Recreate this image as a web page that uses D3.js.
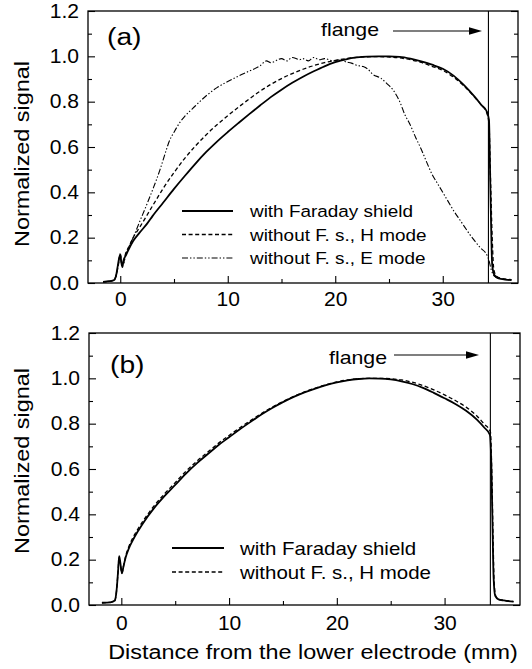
<!DOCTYPE html>
<html>
<head>
<meta charset="utf-8">
<script src="https://cdn.jsdelivr.net/npm/d3@7"></script>
<style>
  body { margin: 0; background: #fff; }
  text { font-family: Arial, "Liberation Sans", Helvetica, sans-serif; fill: #000; }
</style>
</head>
<body>
<svg id="chart" width="532" height="669"></svg>
<script>
// ---- Data: [distance (mm), normalized signal] ----

// Panel (a): with Faraday shield
const aShield = [
  [-1.6,0.005],[-1.0,0.008],[-0.6,0.012],[-0.4,0.03],[-0.25,0.07],[-0.1,0.11],[0.0,0.125],
  [0.1,0.09],[0.2,0.07],[0.3,0.1],[0.5,0.12],[0.8,0.15],[1.2,0.185],[1.8,0.222],[2.5,0.262],
  [3.0,0.295],[4.0,0.355],[5.0,0.415],[6.0,0.472],[7.0,0.527],[8.0,0.578],[9.0,0.624],[10.0,0.666],
  [11.0,0.706],[12.0,0.745],[13.0,0.783],[14.0,0.82],[15.0,0.853],[16.0,0.883],[17.0,0.91],
  [18.0,0.934],[19.0,0.956],[20.0,0.974],[21.0,0.987],[22.0,0.995],[23.0,0.999],[24.0,1.0],
  [25.0,1.0],[26.0,0.998],[27.0,0.99],[28.0,0.978],[29.0,0.963],[30.0,0.945],[31.0,0.915],
  [32.0,0.872],[33.0,0.82],[33.6,0.785],[34.1,0.756],[34.3,0.72],[34.4,0.5],[34.5,0.25],
  [34.6,0.08],[34.8,0.035],[35.2,0.02],[35.8,0.015],[36.4,0.013]
];
// Panel (a): without Faraday shield, H mode
const aHmode = [
  [-1.6,0.005],[-0.6,0.012],[-0.3,0.05],[-0.1,0.1],[0.0,0.13],[0.1,0.1],[0.25,0.08],[0.5,0.13],
  [0.8,0.16],[1.2,0.2],[1.8,0.245],[2.5,0.3],[3.0,0.34],[3.7,0.395],[4.0,0.418],[5.0,0.487],
  [6.0,0.55],[7.0,0.605],[8.0,0.654],[9.0,0.698],[10.0,0.738],[11.0,0.776],[12.0,0.812],[13.0,0.846],
  [14.0,0.876],[15.0,0.902],[16.0,0.924],[17.0,0.943],[18.0,0.959],[19.0,0.972],[20.0,0.982],
  [21.0,0.99],[22.0,0.995],[23.0,0.998],[24.0,0.999],[25.0,0.997],[26.0,0.993],[27.0,0.985],
  [28.0,0.973],[29.0,0.956],[30.0,0.938],[31.0,0.908],[32.0,0.868],[33.0,0.818],[33.6,0.785],
  [34.1,0.75],[34.3,0.7],[34.45,0.45],[34.6,0.2],[34.75,0.06],[35.0,0.03],[35.5,0.02],[36.4,0.015]
];
// Panel (a): without Faraday shield, E mode
const aEmode = [
  [-1.6,0.005],[-0.6,0.012],[-0.3,0.05],[-0.1,0.11],[0.0,0.13],[0.1,0.09],[0.25,0.08],[0.5,0.12],
  [0.8,0.16],[1.2,0.2],[1.8,0.27],[2.5,0.35],[3.0,0.41],[3.7,0.5],[4.2,0.575],[4.6,0.63],[5.0,0.665],
  [5.6,0.712],[6.0,0.735],[7.0,0.782],[7.5,0.805],[8.0,0.826],[9.0,0.862],[10.0,0.889],[11.0,0.913],
  [12.0,0.935],[13.0,0.958],[13.6,0.98],[14.0,0.972],[15.0,0.99],[15.5,0.98],[16.0,0.995],
  [16.7,0.985],[17.0,0.99],[17.5,0.98],[18.0,0.995],[18.5,0.985],[19.0,0.99],[19.8,0.98],
  [20.5,0.985],[21.0,0.975],[21.5,0.97],[22.0,0.96],[22.6,0.955],[23.0,0.945],[23.5,0.92],
  [24.2,0.905],[24.8,0.88],[25.4,0.85],[26.0,0.8],[26.5,0.74],[26.9,0.705],[27.5,0.64],[28.0,0.59],
  [28.4,0.545],[29.0,0.48],[29.5,0.44],[30.0,0.4],[30.5,0.36],[31.0,0.32],[31.6,0.278],[32.0,0.25],
  [32.5,0.215],[32.9,0.19],[33.5,0.155],[34.1,0.124],[34.3,0.1],[34.5,0.06],[34.8,0.03],[35.2,0.02]
];

// Panel (b): with Faraday shield
const bShield = [
  [-1.8,0.01],[-1.0,0.012],[-0.6,0.02],[-0.45,0.06],[-0.3,0.15],[-0.2,0.215],[-0.1,0.19],
  [0.05,0.14],[0.2,0.17],[0.4,0.21],[0.7,0.25],[1.0,0.28],[1.6,0.33],[2.0,0.36],[3.0,0.425],
  [4.0,0.48],[5.0,0.53],[6.0,0.58],[7.0,0.625],[8.0,0.665],[9.0,0.705],[10.0,0.74],[11.0,0.775],
  [12.0,0.808],[13.0,0.84],[14.0,0.869],[15.0,0.895],[16.0,0.918],[17.0,0.938],[18.0,0.955],
  [19.0,0.97],[20.0,0.982],[21.0,0.991],[22.0,0.997],[23.0,1.0],[24.0,0.999],[25.0,0.995],
  [26.0,0.987],[27.0,0.975],[28.0,0.958],[29.0,0.936],[30.0,0.912],[31.0,0.887],[32.0,0.857],
  [33.0,0.818],[33.7,0.782],[34.2,0.752],[34.35,0.6],[34.45,0.35],[34.55,0.12],[34.7,0.04],
  [35.0,0.025],[35.5,0.02],[36.4,0.015]
];
// Panel (b): without Faraday shield, H mode
const bHmode = [
  [-1.8,0.01],[-1.0,0.012],[-0.6,0.02],[-0.45,0.06],[-0.3,0.15],[-0.2,0.21],[-0.1,0.185],
  [0.05,0.14],[0.2,0.17],[0.4,0.215],[0.7,0.258],[1.0,0.29],[1.6,0.34],[2.0,0.37],[3.0,0.435],
  [4.0,0.49],[5.0,0.54],[6.0,0.59],[7.0,0.634],[8.0,0.674],[9.0,0.713],[10.0,0.748],[11.0,0.782],
  [12.0,0.814],[13.0,0.845],[14.0,0.873],[15.0,0.898],[16.0,0.92],[17.0,0.94],[18.0,0.957],
  [19.0,0.972],[20.0,0.984],[21.0,0.993],[22.0,0.998],[23.0,1.0],[24.0,1.0],[25.0,0.998],
  [26.0,0.993],[27.0,0.983],[28.0,0.968],[29.0,0.949],[30.0,0.927],[31.0,0.902],[32.0,0.873],
  [33.0,0.834],[33.7,0.797],[34.25,0.765],[34.4,0.55],[34.5,0.3],[34.6,0.1],[34.75,0.04],
  [35.0,0.025],[35.5,0.02],[36.4,0.015]
];

const yMajorTicks = [0, 0.2, 0.4, 0.6, 0.8, 1.0, 1.2];
const yMinorTicks = [0.1, 0.3, 0.5, 0.7, 0.9, 1.1];
const xMajorTicks = [0, 10, 20, 30];
const xMinorTicks = [5, 15, 25];
const flangePos = 34.25;

const legendA = ["with Faraday shield", "without F. s., H mode", "without F. s., E mode"];
const legendB = ["with Faraday shield", "without F. s., H mode"];

// ---- Drawing ----
const svg = d3.select("#chart");

const styles = {
  shield: { width: 1.8, dash: null },
  hmode:  { width: 1.3, dash: "4,2.6" },
  emode:  { width: 1.1, dash: "6,2,1.4,2,1.4,2" }
};

// stretch text horizontally by factor k
function stretch(sel, k) {
  sel.each(function () {
    const w = this.getComputedTextLength();
    this.setAttribute("textLength", (w * k).toFixed(1));
    this.setAttribute("lengthAdjust", "spacingAndGlyphs");
  });
}

function drawPanel(p) {
  const x = d3.scaleLinear().domain([-3, 37]).range([p.left, p.right]);
  const y = d3.scaleLinear().domain([0, 1.2]).range([p.bottom, p.top]);
  const g = svg.append("g");

  // left axis (labels + inward ticks)
  const left = g.append("g").attr("transform", `translate(${p.left},0)`)
    .call(d3.axisLeft(y).tickValues(yMajorTicks).tickFormat(d3.format(".1f"))
      .tickSizeInner(-7).tickSizeOuter(0).tickPadding(9));
  left.append("g").call(d3.axisLeft(y).tickValues(yMinorTicks).tickFormat("")
      .tickSizeInner(-4).tickSizeOuter(0));
  // right axis (mirror ticks)
  const right = g.append("g").attr("transform", `translate(${p.right},0)`)
    .call(d3.axisRight(y).tickValues(yMajorTicks).tickFormat("").tickSizeInner(-7).tickSizeOuter(0));
  right.append("g").call(d3.axisRight(y).tickValues(yMinorTicks).tickFormat("")
      .tickSizeInner(-4).tickSizeOuter(0));
  // bottom axis
  const bottom = g.append("g").attr("transform", `translate(0,${p.bottom})`)
    .call(d3.axisBottom(x).tickValues(xMajorTicks).tickFormat(d3.format("d"))
      .tickSizeInner(-7).tickSizeOuter(0).tickPadding(p.xPad));
  bottom.append("g").call(d3.axisBottom(x).tickValues(xMinorTicks).tickFormat("")
      .tickSizeInner(-4).tickSizeOuter(0));

  g.selectAll(".domain").remove();
  g.selectAll(".tick line").attr("stroke", "#000").attr("stroke-width", 1.1);
  g.selectAll(".tick text").attr("font-size", 19.5).attr("font-family", null).attr("fill", "#000");
  stretch(g.selectAll(".tick text"), 1.08);

  // frame
  g.append("rect")
    .attr("x", p.left).attr("y", p.top)
    .attr("width", p.right - p.left).attr("height", p.bottom - p.top)
    .attr("fill", "none").attr("stroke", "#000").attr("stroke-width", 1.3);

  // curves
  const line = d3.line().x(d => x(d[0])).y(d => y(d[1])).curve(d3.curveMonotoneX);
  p.series.forEach(s => {
    const st = styles[s.style];
    g.append("path").datum(s.data)
      .attr("d", line)
      .attr("fill", "none").attr("stroke", "#000")
      .attr("stroke-width", st.width)
      .attr("stroke-linejoin", "round")
      .attr("stroke-dasharray", st.dash);
  });

  // flange marker
  g.append("line")
    .attr("x1", x(flangePos)).attr("x2", x(flangePos))
    .attr("y1", p.top).attr("y2", p.bottom)
    .attr("stroke", "#000").attr("stroke-width", 1.1);
  const ft = g.append("text").attr("x", p.flange.x).attr("y", p.flange.y)
    .attr("font-size", 18.5).text("flange");
  stretch(ft, 1.15);
  g.append("line")
    .attr("x1", p.flange.a0).attr("x2", p.flange.a1 - 10)
    .attr("y1", p.flange.ay).attr("y2", p.flange.ay)
    .attr("stroke", "#000").attr("stroke-width", 1.2);
  g.append("path")
    .attr("d", `M${p.flange.a1},${p.flange.ay} l-13,-3.8 l0,7.6 z`)
    .attr("fill", "#000");

  // panel letter
  const pl = g.append("text").attr("x", p.letter.x).attr("y", p.letter.y)
    .attr("font-size", 23.5).text(p.letter.t);
  stretch(pl, 1.2);

  // y label
  const yl = g.append("text")
    .attr("transform", `translate(29,${p.ylabelY}) rotate(-90)`)
    .attr("text-anchor", "middle").attr("font-size", 19.5).text("Normalized signal");
  stretch(yl, 1.2);

  // legend
  p.legend.labels.forEach((lab, i) => {
    const ry = p.legend.y0 + i * p.legend.dy;
    const st = styles[p.series[i].style];
    g.append("line")
      .attr("x1", p.legend.l0).attr("x2", p.legend.l1)
      .attr("y1", ry).attr("y2", ry)
      .attr("stroke", "#000").attr("stroke-width", st.width)
      .attr("stroke-dasharray", st.dash);
    const t = g.append("text").attr("x", p.legend.tx).attr("y", ry).attr("dy", "0.35em")
      .attr("font-size", p.legend.fs).text(lab);
    stretch(t, 1.1);
  });
}

drawPanel({
  left: 88, right: 518, top: 11, bottom: 283, xPad: 9, ylabelY: 154,
  series: [
    { data: aShield, style: "shield" },
    { data: aHmode, style: "hmode" },
    { data: aEmode, style: "emode" }
  ],
  flange: { x: 321, y: 36, a0: 393, a1: 482, ay: 31 },
  letter: { x: 107, y: 45, t: "(a)" },
  legend: { labels: legendA, l0: 182, l1: 233, tx: 250, y0: 211, dy: 23.5, fs: 17.2 }
});

drawPanel({
  left: 89, right: 520, top: 333, bottom: 605, xPad: 11, ylabelY: 461,
  series: [
    { data: bShield, style: "shield" },
    { data: bHmode, style: "hmode" }
  ],
  flange: { x: 329, y: 364, a0: 394, a1: 479, ay: 355 },
  letter: { x: 110, y: 373, t: "(b)" },
  legend: { labels: legendB, l0: 172, l1: 224, tx: 240, y0: 548, dy: 24, fs: 18.6 }
});

// shared x-axis title
const xl = svg.append("text")
  .attr("x", 313).attr("y", 659).attr("text-anchor", "middle")
  .attr("font-size", 19.5).text("Distance from the lower electrode (mm)");
stretch(xl, 1.2);
</script>
</body>
</html>
